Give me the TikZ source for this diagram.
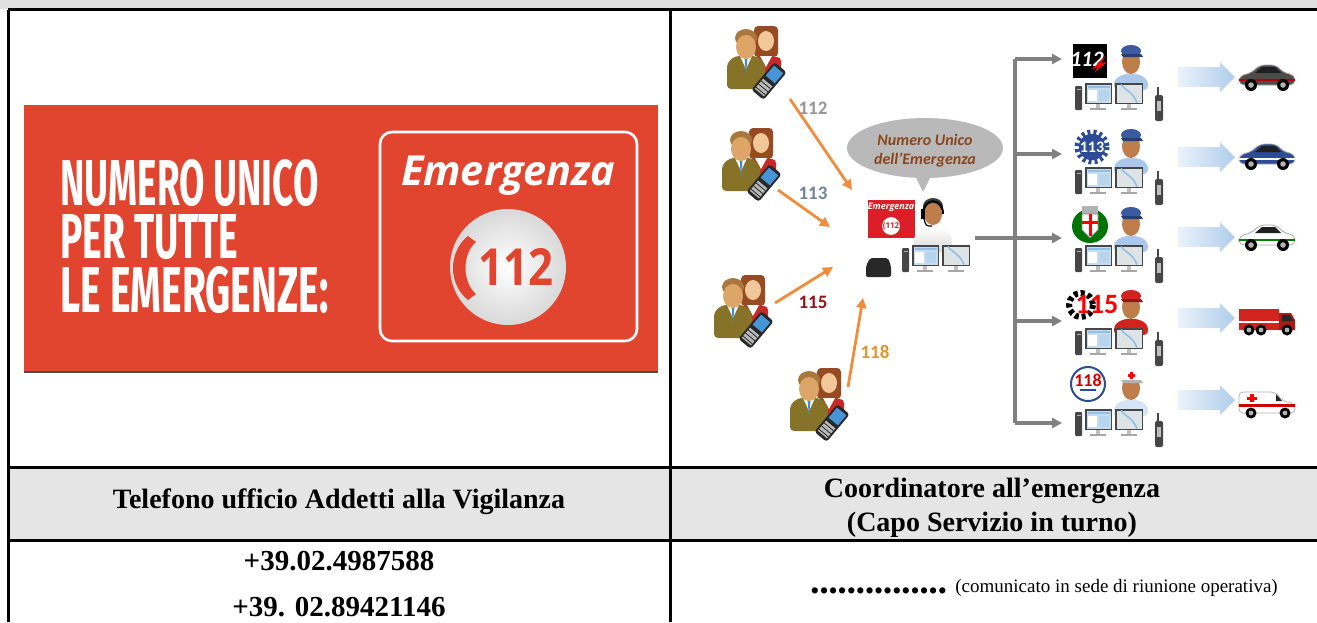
\documentclass[tikz,border=0pt]{standalone}
\usepackage{graphicx}
\usepackage{fontspec}
\setmainfont{Liberation Serif}
\newfontfamily\labelfont{Carlito}
\newfontfamily\bannerfont{Fira Sans}
\newfontfamily\emfont{Open Sans}
\usetikzlibrary{arrows.meta,shapes.geometric,shapes.arrows}
\definecolor{bannerred}{RGB}{226,69,47}
\definecolor{orangearr}{RGB}{240,140,60}
\definecolor{branchgray}{RGB}{128,128,128}
\definecolor{skin}{RGB}{242,200,155}
\definecolor{skindark}{RGB}{222,165,105}
\definecolor{skinop}{RGB}{190,125,75}
\definecolor{jacket}{RGB}{135,115,40}
\definecolor{hairbrown}{RGB}{150,75,35}
\definecolor{manhair}{RGB}{170,120,60}
\definecolor{womanred}{RGB}{200,40,40}
\definecolor{tieblue}{RGB}{60,140,210}
\definecolor{phoneblk}{RGB}{40,40,40}
\definecolor{screen}{RGB}{70,150,215}
\definecolor{screenpale}{RGB}{200,220,240}
\definecolor{mapcol}{RGB}{222,228,230}
\definecolor{framegray}{RGB}{70,70,70}
\definecolor{lightblue}{RGB}{175,205,235}
\definecolor{bubblegray}{RGB}{185,185,185}
\definecolor{bubbletxt}{RGB}{140,70,30}
\definecolor{policeblue}{RGB}{45,75,150}
\definecolor{capblue}{RGB}{60,90,160}
\definecolor{shirtblue}{RGB}{170,200,235}
\definecolor{firered}{RGB}{210,35,30}
\definecolor{embred}{RGB}{220,30,40}
\definecolor{num112}{RGB}{150,150,150}
\definecolor{num113}{RGB}{115,130,155}
\definecolor{num115}{RGB}{150,20,30}
\definecolor{num118}{RGB}{225,150,45}
\definecolor{topband}{RGB}{224,224,224}
\definecolor{headgray}{RGB}{229,229,229}
\begin{document}
\begin{tikzpicture}[x=0.5pt,y=-0.5pt,>={Triangle[length=5pt,width=5pt]},
    rule/.style={line width=1.5pt},
    headtxt/.style={font=\bfseries\fontsize{14}{17}\selectfont,align=center},
    numtxt/.style={font=\bfseries\fontsize{14.5}{17}\selectfont},
    callarrow/.style={->,draw=orangearr,line width=1.4pt},
    calllabel/.style={font=\labelfont\bfseries\fontsize{9.5}{11}\selectfont},
    branch/.style={draw=branchgray,line width=1.6pt},
    fatarrow/.style={single arrow,left color=lightblue!25,right color=lightblue,draw=none,
      minimum height=28.5pt,minimum width=15pt,single arrow head extend=2.5pt,
      inner xsep=0pt,inner ysep=4.75pt},
    pics/caller/.style={code={
      % woman behind
      \fill[hairbrown,rounded corners=2pt] (-1,-37) rectangle (23,-6);
      \fill[skin] (11,-22) ellipse (8 and 10);
      \fill[womanred,rounded corners=2pt] (-2,-6) rectangle (26,14);
      \fill[white] (5,-7) -- (17,-7) -- (11,4) -- cycle;
      % man in front
      \fill[jacket,rounded corners=2pt] (-28,26) -- (-28,0) -- (-20,-7) -- (2,-7) -- (10,0) -- (10,26) -- cycle;
      \fill[white] (-15,-7) -- (-3,-7) -- (-9,6) -- cycle;
      \fill[tieblue] (-10.5,-5) -- (-7.5,-5) -- (-9,12) -- cycle;
      \fill[manhair] (-9,-25) ellipse (11 and 9);
      \fill[skindark] (-9,-16) ellipse (10 and 12);
      % phone
      \begin{scope}[shift={(14,18)},rotate=-40]
        \fill[phoneblk,rounded corners=1.5pt] (-8,-18) rectangle (8,18);
        \fill[screen] (-6,-15) rectangle (6,-2);
        \fill[gray!55] (-6,2) rectangle (6,15);
        \foreach \k in {5,9,13} \draw[phoneblk,line width=0.4pt] (-6,\k) -- (6,\k);
      \end{scope}
    }},
    pics/desk/.style={code={
      \fill[framegray,rounded corners=0.5pt] (0,3) rectangle (7,27);
      \fill[gray!60] (1.5,6) rectangle (5.5,7);
      \fill[framegray] (10,0) rectangle (37,21);
      \fill[screenpale] (11.5,1.5) rectangle (35.5,19.5);
      \fill[screen!60] (12.5,2.5) rectangle (34.5,5);
      \fill[white] (13,7) rectangle (22,18);
      \fill[screen!40] (24,7) rectangle (34,18);
      \fill[gray!50] (21,21) rectangle (25,25);
      \fill[gray!70] (15,25) rectangle (31,27);
      \fill[framegray] (40,0) rectangle (68,21);
      \fill[mapcol] (41.5,1.5) rectangle (66.5,19.5);
      \draw[screen!60,line width=0.8pt] (46,1.5) .. controls (52,9) and (57,8) .. (62,19.5);
      \fill[gray!50] (52,21) rectangle (56,25);
      \fill[gray!70] (46,25) rectangle (62,27);
    }},
    pics/radio/.style={code={
      \fill[framegray,rounded corners=1pt] (0,8) rectangle (8,34);
      \fill[framegray] (1.5,0) rectangle (3.5,8);
      \fill[gray!50] (2,14) rectangle (6,24);
    }},
    pics/officer/.style 2 args={code={
      \fill[#2,rounded corners=2pt] (-17,36) -- (-17,26) -- (-8,20) -- (8,20) -- (17,26) -- (17,36) -- cycle;
      \fill[skinop] (0,8) ellipse (9 and 12);
      \fill[#1] (0,-3) ellipse (10 and 6);
      \fill[#1!70!black] (-10,0) -- (10,0) -- (12,3) -- (-8,3) -- cycle;
    }},
    pics/car/.style 2 args={code={
      \fill[#1,draw=gray!70,line width=0.4pt,rounded corners=2.5pt] (-28,7) -- (-28,-2) -- (-16,-5) -- (-7,-13) -- (9,-13) -- (17,-5) -- (28,-3) -- (28,7) -- cycle;
      \fill[#2] (-28,0.5) -- (28,0.5) -- (28,3) -- (-28,3) -- cycle;
      \fill[gray!25!black] (-5,-11) -- (8,-11) -- (14,-5) -- (-12,-5) -- cycle;
      \foreach \w in {-16,16} {\fill[black] (\w,7) circle (6); \fill[gray!60] (\w,7) circle (2.8);}
    }},
    pics/truck/.style={code={
      \fill[firered] (-28,-13) rectangle (12,8);
      \fill[firered!80!black] (12,-9) -- (24,-9) -- (28,-2) -- (28,8) -- (12,8) -- cycle;
      \fill[gray!30!black] (15,-7) -- (23,-7) -- (26,-1) -- (15,-1) -- cycle;
      \fill[white] (-28,-1) rectangle (12,0.5);
      \foreach \w in {-18,-6,20} {\fill[black] (\w,8) circle (5.5); \fill[gray!60] (\w,8) circle (2.4);}
    }},
    pics/ambulance/.style={code={
      \fill[white,draw=gray!60,line width=0.4pt,rounded corners=2pt] (-28,8) -- (-28,-13) -- (8,-13) -- (16,-4) -- (28,-1) -- (28,8) -- cycle;
      \fill[gray!30!black] (9,-11) -- (15,-4) -- (9,-4) -- cycle;
      \fill[red!80!black] (-28,-1) rectangle (28,1.5);
      \fill[red] (-17,-11) rectangle (-13,-3);
      \fill[red] (-20,-8.5) rectangle (-10,-5.5);
      \foreach \w in {-16,18} {\fill[black] (\w,8) circle (5.5); \fill[gray!60] (\w,8) circle (2.4);}
    }}]
  \useasboundingbox (0,0) rectangle (1317,622);
  % draw the table
  \fill[topband] (0,0) rectangle (1317,9);
  \fill[headgray] (8,467) rectangle (1317,540);
  \draw[rule] (8,9.5) -- (1317,9.5);
  \draw[rule] (8,467) -- (1317,467);
  \draw[rule] (8,540) -- (1317,540);
  \draw[rule] (8,9.5) -- (8,622);
  \draw[rule] (670,9.5) -- (670,622);

  % the red banner
  \fill[bannerred] (24,105) rectangle (658,372);
  \draw[black!70,line width=0.8pt] (24,372) -- (658,372);
  \node[anchor=north west,inner sep=0,text=white,align=left,font=\fontsize{10}{26.75}\selectfont] (slogan) at (60,159)
    {\resizebox{129pt}{23pt}{\bannerfont\bfseries NUMERO UNICO}\\
     \resizebox{89pt}{22pt}{\bannerfont\bfseries PER TUTTE}\\
     \resizebox{134pt}{23pt}{\bannerfont\bfseries LE EMERGENZE:}};
  \draw[white,line width=1.3pt,rounded corners=6pt] (380,132) rectangle (637,341);
  \node[text=white,inner sep=0] (emword) at (508,176) {\resizebox{107pt}{!}{\emfont\bfseries\itshape Emergenza}};
  \node[circle,minimum size=58pt,inner sep=0,inner color=white,outer color=gray!30] (disc) at (508,267) {};
  \fill[bannerred] (468,236) .. controls (448,252) and (448,284) .. (468,300) -- (476,294) .. controls (462,282) and (462,254) .. (476,242) -- cycle;
  \node[anchor=north west,inner sep=0,text=bannerred] (discnum) at (478,248) {\resizebox{37.5pt}{18.5pt}{\emfont\bfseries 112}};

  % callers and their numbers
  \pic at (755,63) {caller};
  \pic at (750,165) {caller};
  \pic at (742,312) {caller};
  \pic at (818,405) {caller};
  \coordinate (t1) at (790,99);  \coordinate (h1) at (852,190);
  \coordinate (t2) at (778,190); \coordinate (h2) at (830,227);
  \coordinate (t3) at (775,303); \coordinate (h3) at (833,267);
  \coordinate (t4) at (848,387); \coordinate (h4) at (863,298);
  \draw[callarrow] (t1) -- (h1);
  \draw[callarrow] (t2) -- (h2);
  \draw[callarrow] (t3) -- (h3);
  \draw[callarrow] (t4) -- (h4);
  \node[calllabel,text=num112] (n112) at (813,108) {112};
  \node[calllabel,text=num113] (n113) at (813,193) {113};
  \node[calllabel,text=num115] (n115) at (813,302) {115};
  \node[calllabel,text=num118] (n118) at (875,352) {118};

  % the operator
  \node[ellipse,fill=bubblegray,minimum width=78pt,minimum height=30pt,inner sep=0] (bubble) at (925,148) {};
  \fill[bubblegray] (912,170) -- (934,170) -- (923,192) -- cycle;
  \node[font=\labelfont\bfseries\itshape\fontsize{8}{9.5}\selectfont,text=bubbletxt,align=center] (bubbletext) at (925,151) {Numero Unico\\dell’Emergenza};
  \node[fill=embred,minimum width=23.5pt,minimum height=19pt,inner sep=0] (embox) at (891,219) {};
  \node[text=white,inner sep=0,font=\emfont\bfseries\itshape\fontsize{4.5}{5}\selectfont] (emtxt) at (891,207) {Emergenza};
  \node[circle,fill=white,minimum size=8pt,inner sep=0,text=embred,font=\emfont\bfseries\fontsize{4}{5}\selectfont] (emnum) at (891,226) {(112};
  \shade[top color=white,bottom color=gray!30,rounded corners=2pt] (914,252) -- (914,236) -- (922,228) -- (944,228) -- (952,236) -- (952,252) -- cycle;
  \fill[black!75] (933,206) ellipse (10 and 8);
  \fill[skinop] (933,214) ellipse (9 and 11);
  \draw[black,line width=1pt] (923,214) .. controls (923,197) and (943,197) .. (943,214);
  \fill[black] (921,209) rectangle (925,219);
  \draw[black,line width=0.6pt] (924,219) .. controls (926,226) .. (932,226);
  \pic at (902,245) {desk};
  \fill[phoneblk,rounded corners=1pt] (866,266) -- (870,258) -- (888,258) -- (891,266) -- (891,277) -- (866,277) -- cycle;

  % branches to the services
  \coordinate (opout) at (975,238);
  \coordinate (hub) at (1015,238);
  \coordinate (s1) at (1062,59);
  \coordinate (s2) at (1062,154);
  \coordinate (s3) at (1062,238);
  \coordinate (s4) at (1062,321);
  \coordinate (s5) at (1062,423);
  \draw[branch] (opout) -- (hub);
  \draw[branch] (hub |- s1) -- (hub |- s5);
  \foreach \i in {1,...,5} \draw[branch,->] (hub |- s\i) -- (s\i);

  % service logos
  \fill[black] (1073,44) rectangle (1107,78);
  \node[text=white,font=\labelfont\bfseries\itshape\fontsize{11}{11}\selectfont] (logo1) at (1087,59) {112};
  \fill[red] (1092,69) -- (1106,56) -- (1101,63) -- (1107,62) -- (1094,73) -- (1098,67) -- cycle;
  \fill[white] (1092,147) circle (19);
  \draw[policeblue,line width=2.5pt,dash pattern=on 1.5pt off 1.5pt] (1092,147) circle (15);
  \node[circle,fill=policeblue,minimum size=11pt,inner sep=0,text=white,font=\labelfont\bfseries\fontsize{8}{8}\selectfont] (logo2) at (1092,147) {113};
  \fill[green!45!black] (1090,226) ellipse (18 and 17);
  \fill[gray!60] (1082,206) rectangle (1098,214);
  \fill[white,draw=gray] (1082,214) -- (1098,214) -- (1098,230) -- (1090,238) -- (1082,230) -- cycle;
  \fill[red] (1088.5,214) rectangle (1091.5,236);
  \fill[red] (1082,221) rectangle (1098,224);
  \draw[black,line width=3pt,dash pattern=on 2pt off 1.5pt] (1081,305) circle (12);
  \node[text=red,font=\labelfont\bfseries\fontsize{14}{14}\selectfont] (logo4) at (1097,304) {115};
  \fill[white,draw=policeblue,line width=1pt] (1088,384) circle (17);
  \node[text=red!80!black,font=\labelfont\bfseries\fontsize{9}{9}\selectfont] (logo5) at (1088,380) {118};
  \fill[policeblue] (1080,389) rectangle (1096,391);

  % operators of the services
  \pic at (1131,54) {officer={capblue}{shirtblue}};
  \pic at (1131,138) {officer={capblue}{shirtblue}};
  \pic at (1131,216) {officer={capblue}{shirtblue}};
  \pic at (1131,299) {officer={firered}{firered}};
  \pic at (1131,380) {officer={white}{shirtblue!50}};
  \fill[red] (1129.5,372) rectangle (1132.5,379);
  \fill[red] (1127.5,374) rectangle (1134.5,377);
  \foreach \y in {44,128,206,289,370} {
    \pic at (1075,\y+39) {desk};
    \pic at (1155,\y+43) {radio};
  }

  % vehicles
  \node[fatarrow] (f1) at (1201.5,77) {};
  \node[fatarrow] (f2) at (1201.5,157) {};
  \node[fatarrow] (f3) at (1201.5,237) {};
  \node[fatarrow] (f4) at (1201.5,318) {};
  \node[fatarrow] (f5) at (1201.5,400) {};
  \pic at (1267,78) {car={black!70}{red!70!black}};
  \pic at (1267,157) {car={policeblue}{white}};
  \pic at (1267,238) {car={white}{green!50!black}};
  \pic at (1267,322) {truck};
  \pic at (1267,405) {ambulance};

  % the text rows
  \node[headtxt] (tel) at (339,502) {Telefono ufficio Addetti alla Vigilanza};
  \node[headtxt] (coord) at (992,508) {Coordinatore all’emergenza\\(Capo Servizio in turno)};
  \node[numtxt] (num1) at (339,561) {+39.02.4987588};
  \node[numtxt] (num2) at (339,607) {+39. 02.89421146};
  \node[font=\fontsize{13}{15}\selectfont,anchor=west,inner sep=0] (dots) at (810,594) {\textbullet\textbullet\textbullet\textbullet\textbullet\textbullet\textbullet\textbullet\textbullet\textbullet\textbullet\textbullet\textbullet\textbullet\textbullet};
  \node[font=\fontsize{9.5}{11}\selectfont,anchor=west,inner sep=0] (note) at (955,588) {(comunicato in sede di riunione operativa)};
\end{tikzpicture}
\end{document}
